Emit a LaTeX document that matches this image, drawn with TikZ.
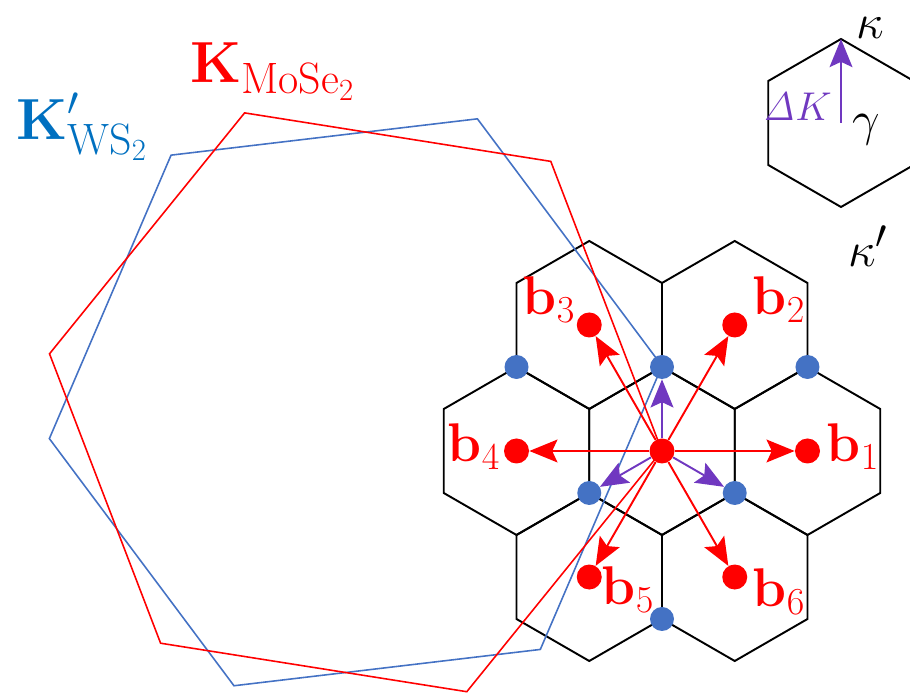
\RequirePackage{fix-cm}
\documentclass[tikz,border=0pt]{standalone}
\usepackage{amsmath}
\usepackage{xcolor}
\usepackage{tikz}
\usetikzlibrary{arrows.meta, calc}
\definecolor{mosered}{RGB}{255,0,0}
\definecolor{wsblue}{RGB}{68,114,196}
\definecolor{wslabel}{RGB}{0,112,192}
\definecolor{dkpurple}{RGB}{112,56,192}

\tikzset{
  cellline/.style={black, line width=1.1pt},
  bzline/.style={line width=0.9pt},
  redarrow/.style={mosered, line width=1.1pt, -{Stealth[length=16pt, width=13pt, inset=3pt]}},
  dkarrow/.style={dkpurple, line width=1.1pt, -{Stealth[length=16pt, width=13pt, inset=3pt]}},
  reddot/.style={circle, fill=mosered, inner sep=0pt, minimum size=0.5cm},
  bluedot/.style={circle, fill=wsblue, inner sep=0pt, minimum size=0.48cm},
  blabel/.style={mosered, inner sep=0pt, font=\fontsize{31}{34}\selectfont},
  greek/.style={inner sep=0pt, font=\Huge, scale=1.12},
  klabel/.style={anchor=base west, inner sep=0pt, font=\fontsize{33}{36}\selectfont},
}

\begin{document}
\begin{tikzpicture}
  \useasboundingbox (0,0) rectangle (18.2,13.88);
  \def\hr{1.68}
  \def\bd{2.91}

  % Centres
  \coordinate (O) at (13.24,4.86);
  \coordinate (C) at (7.114,5.834);
  \coordinate (G) at (16.82,11.42);

  % Cells of the lattice
  \foreach \a in {0,60,...,300}
    \coordinate (c\a) at ($(O)+(\a:\bd)$);
  \foreach \c in {O,c0,c60,c120,c180,c240,c300}
    \draw[cellline] (\c) +(30:\hr) -- +(90:\hr) -- +(150:\hr) -- +(210:\hr)
      -- +(270:\hr) -- +(330:\hr) -- cycle;

  % Big zones
  \draw[bzline, wsblue] (C) +(6.76:6.17)
    \foreach \a in {66.76,126.76,186.76,246.76,306.76} {-- +(\a:6.17)} -- cycle;
  \draw[bzline, mosered] (C) +(-9:6.2)
    \foreach \a in {51,111,171,231,291} {-- +(\a:6.2)} -- cycle;

  % Inset cell
  \draw[cellline] (G) +(30:\hr) -- +(90:\hr) -- +(150:\hr) -- +(210:\hr)
    -- +(270:\hr) -- +(330:\hr) -- cycle;
  \coordinate (Gtop) at ($(G)+(90:\hr)$);
  \draw[dkarrow] (G) -- (Gtop);

  % Dots
  \foreach \i in {1,...,6}
    \node[reddot] (b\i) at ($(O)+({60*(\i-1)}:\bd)$) {};
  \node[reddot] (ctr) at (O) {};
  \foreach \i/\a/\r in {1/90/1.68, 2/210/1.68, 3/330/1.68, 4/30/3.36, 5/150/3.36, 6/270/3.36}
    \node[bluedot] (k\i) at ($(O)+(\a:\r)$) {};

  % Arrows
  \foreach \i in {1,...,6}
    \draw[redarrow] (ctr) -- (b\i);
  \foreach \i in {1,2,3}
    \draw[dkarrow] (ctr) -- (k\i);

  % Labels
  \foreach \i/\x/\y in {1/17.06/4.94, 2/15.58/7.88, 3/10.98/7.88,
                        4/9.48/4.94, 5/12.56/2.08, 6/15.58/2.04}
    \node[blabel] (l\i) at (\x,\y) {$\textbf{b}_\i$};

  \node[greek] (kap) at (17.4,13.32) {$\kappa$};
  \node[greek] (kapp) at (17.36,8.96) {$\kappa'$};
  \node[greek] (gam) at (17.32,11.28) {$\gamma$};
  \node[greek, dkpurple, anchor=east, scale=0.82] (dK) at (16.64,11.74) {$\mathit{\Delta}K$};

  \node[klabel, mosered] (kmose) at (3.8,12.22)
    {$\textbf{K}_{\text{\fontsize{25}{25}\selectfont MoSe$_2$}}$};
  \node[klabel, wslabel] (kws) at (0.32,11.08)
    {$\textbf{K}'_{\text{\fontsize{25}{25}\selectfont WS$_2$}}$};
\end{tikzpicture}
\end{document}
